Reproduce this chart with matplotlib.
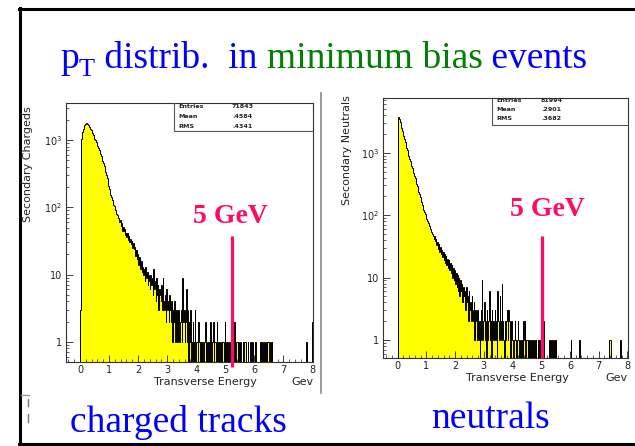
import numpy as np
import matplotlib
matplotlib.use("Agg")
import matplotlib.pyplot as plt
from matplotlib.ticker import LogLocator, NullFormatter, FixedLocator, MultipleLocator
from matplotlib.lines import Line2D

# ---------------- data ----------------
bin_lo, bin_hi, n_bins = 0.0, 8.0, 320

charged_counts = [
    3, 700, 1050, 1300, 1480, 1600, 1700, 1760, 1800, 1790,
    1750, 1690, 1620, 1550, 1470, 1400, 1330, 1260, 1190, 1120,
    1050, 990, 930, 870, 820, 770, 720, 680, 630, 580,
    530, 490, 450, 410, 370, 335, 300, 270, 240, 210,
    185, 168, 152, 140, 130, 121, 108, 103, 92, 88,
    80, 78, 69, 70, 60, 64, 52, 58, 45, 51,
    44, 47, 39, 42, 36, 41, 33, 37, 30, 34,
    28, 31, 25, 29, 24, 26, 19, 23, 17, 20,
    14, 18, 15, 12, 16, 11, 13, 10, 12, 8,
    13, 9, 11, 7, 10, 8, 6, 10, 7, 9,
    5, 12, 6, 8, 4, 9, 5, 7, 3, 6,
    5, 4, 7, 3, 9, 4, 3, 5, 2, 6,
    3, 4, 2, 5, 3, 2, 4, 1, 3, 2,
    4, 1, 3, 2, 1, 3, 2, 1, 2, 3,
    1, 9, 2, 3, 1, 2, 6, 1, 3, 0,
    2, 1, 3, 0, 1, 2, 0, 1, 3, 0,
    1, 1, 0, 2, 1, 0, 1, 0, 1, 1,
    0, 1, 2, 0, 1, 0, 1, 1, 0, 2,
    1, 0, 1, 2, 0, 1, 1, 0, 2, 1,
    0, 1, 1, 0, 1, 0, 1, 1, 0, 2,
    1, 0, 1, 1, 0, 1, 0, 1, 0, 1,
    1, 0, 2, 1, 0, 1, 1, 0, 1, 0,
    1, 1, 0, 0, 1, 0, 1, 1, 0, 0,
    0, 1, 0, 0, 1, 0, 0, 1, 0, 0,
    0, 1, 0, 0, 0, 0, 0, 0, 1, 0,
    1, 1, 0, 0, 1, 0, 1, 0, 1, 1,
    0, 1, 1, 0, 1, 0, 0, 0, 0, 0,
    0, 0, 0, 0, 0, 0, 0, 0, 0, 0,
    0, 0, 0, 0, 0, 0, 0, 0, 0, 0,
    0, 0, 0, 0, 0, 0, 0, 0, 0, 0,
    0, 0, 0, 0, 0, 0, 0, 0, 0, 0,
    0, 1, 0, 0, 0, 0, 0, 0, 0, 2,
]

neutral_counts = [
    1400, 3800, 3420, 3080, 2780, 2500, 2250, 2030, 1830, 1650,
    1490, 1340, 1210, 1090, 985, 890, 800, 730, 670, 610,
    560, 510, 470, 430, 390, 355, 320, 290, 262, 238,
    216, 196, 178, 162, 148, 135, 122, 112, 103, 95,
    88, 82, 76, 70, 66, 61, 57, 53, 50, 47,
    42, 46, 38, 41, 33, 37, 29, 34, 26, 31,
    24, 28, 21, 26, 19, 24, 17, 22, 16, 20,
    14, 19, 13, 17, 12, 16, 10, 14, 9, 13,
    8, 12, 7, 11, 6, 10, 5, 9, 6, 8,
    4, 7, 5, 6, 3, 7, 4, 5, 2, 6,
    3, 4, 2, 5, 3, 2, 4, 1, 3, 2,
    1, 3, 1, 2, 0, 1, 3, 9, 1, 2,
    4, 1, 2, 0, 3, 1, 2, 6, 1, 2,
    0, 3, 1, 2, 1, 3, 2, 1, 0, 6,
    2, 1, 5, 2, 1, 8, 2, 1, 0, 2,
    1, 2, 3, 1, 3, 2, 1, 0, 2, 1,
    1, 0, 1, 2, 1, 0, 1, 2, 1, 0,
    1, 1, 0, 1, 0, 2, 1, 2, 0, 1,
    1, 0, 1, 0, 1, 1, 0, 1, 0, 0,
    1, 0, 1, 0, 0, 1, 0, 1, 0, 0,
    1, 0, 0, 2, 0, 0, 0, 0, 0, 0,
    0, 1, 0, 1, 1, 0, 0, 1, 0, 1,
    0, 0, 0, 0, 0, 0, 0, 0, 0, 0,
    0, 0, 0, 0, 0, 0, 0, 0, 0, 0,
    0, 1, 0, 0, 0, 0, 0, 0, 0, 0,
    0, 0, 0, 1, 0, 0, 0, 0, 0, 0,
    0, 0, 0, 0, 0, 0, 0, 0, 0, 0,
    0, 0, 0, 0, 0, 0, 0, 0, 0, 0,
    0, 0, 0, 0, 0, 0, 0, 0, 0, 0,
    0, 0, 0, 0, 1, 1, 1, 0, 0, 0,
    0, 0, 0, 0, 0, 0, 0, 0, 0, 0,
    1, 0, 0, 0, 0, 0, 0, 0, 0, 0,
]

stat_names = ["Entries", "Mean", "RMS"]
charged_stats = ["71843", ".4584", ".4341"]
neutral_stats = ["81994", ".2901", ".3682"]

cut_gev = [5.23, 5.02]          # position of the red "5 GeV" marker in each panel
cut_label = "5 GeV"
ylabels = ["Secondary Chargeds", "Secondary Neutrals"]
xlabel = "Transverse Energy"
xunit = "Gev"
panel_titles = ["charged tracks", "neutrals"]
xticks = [0, 1, 2, 3, 4, 5, 6, 7, 8]
yticks = [1, 10, 100, 1000]
yticklabels = ["1", "10", "10$^{2}$", "10$^{3}$"]

# ---------------- figure ----------------
W, H = 635, 446
fig = plt.figure(figsize=(W / 100, H / 100), dpi=100)
fx = lambda px: px / W
fy = lambda py: 1 - py / H

SERIF = "Liberation Serif"
BLUE = "#0000ff"
GREEN = "#008000"
RED = "#ff0a64"
YELLOW = "#ffff00"

edges = np.linspace(bin_lo, bin_hi, n_bins + 1)

panels = [
    dict(counts=charged_counts, stats=charged_stats, px=(66, 313, 103, 362),
         xlim=(-0.48, 8.02), ylim=(0.5, 3560), box=(0.437, 0.892),
         rows=(0.985, 0.946, 0.911), lx=0.453, vx=0.672,
         cut=cut_gev[0], cut_top=36.9, cut_bot=0.42,
         xlab_x=0.563, ylab=(-0.154, 0.764), label_xy=(230, 217)),
    dict(counts=neutral_counts, stats=neutral_stats, px=(383, 628, 98, 358),
         xlim=(-0.51, 8.02), ylim=(0.515, 7540), box=(0.445, 0.896),
         rows=(0.990, 0.956, 0.921), lx=0.461, vx=0.645,
         cut=cut_gev[1], cut_top=46.0, cut_bot=0.515,
         xlab_x=0.549, ylab=(-0.147, 0.80), label_xy=(547, 210)),
]

for i, p in enumerate(panels):
    x0, x1, y0, y1 = p["px"]
    ax = fig.add_axes([fx(x0), fy(y1), (x1 - x0) / W, (y1 - y0) / H])
    ax.set_yscale("log")
    ax.set_xlim(*p["xlim"])
    ax.set_ylim(*p["ylim"])
    c = np.asarray(p["counts"], dtype=float)
    base = p["ylim"][0]
    vals = np.where(c > 0, c, base)
    ax.stairs(vals, edges, baseline=base, fill=True, color=YELLOW, zorder=1)
    ax.stairs(vals, edges, baseline=base, fill=False, color="black", lw=0.7, zorder=2)

    for s in ax.spines.values():
        s.set_linewidth(0.8)
        s.set_color("#333333")
    ax.xaxis.set_major_locator(FixedLocator(xticks))
    ax.xaxis.set_minor_locator(MultipleLocator(0.2))
    ax.yaxis.set_major_locator(FixedLocator(yticks))
    ax.set_yticklabels(yticklabels)
    ax.yaxis.set_minor_locator(LogLocator(base=10, subs=range(2, 10)))
    ax.yaxis.set_minor_formatter(NullFormatter())
    ax.tick_params(which="both", direction="in", top=False, right=False,
                   labelsize=7, colors="#222222")
    ax.tick_params(which="major", length=5, width=0.6, pad=2.5)
    ax.tick_params(which="minor", length=2.5, width=0.5)

    # stats box
    bx, by = p["box"]
    ax.plot([bx, bx, 1.0], [1.0, by, by], transform=ax.transAxes,
            color="#555555", lw=0.8, clip_on=False, zorder=5)
    for r, name, val in zip(p["rows"], stat_names, p["stats"]):
        ax.text(p["lx"], r, name, transform=ax.transAxes, fontsize=4.6,
                va="center", ha="left", fontweight="semibold", color="#222222")
        ax.text(p["vx"], r, val, transform=ax.transAxes, fontsize=4.6,
                va="center", ha="left", fontweight="semibold", color="#222222")

    # axis titles
    ax.text(p["xlab_x"], -0.077, xlabel, transform=ax.transAxes, fontsize=8,
            ha="center", va="center", color="#222222")
    ax.text(1.0, -0.077, xunit, transform=ax.transAxes, fontsize=8,
            ha="right", va="center", color="#222222")
    ax.text(p["ylab"][0], p["ylab"][1], ylabels[i], transform=ax.transAxes,
            fontsize=8, rotation=90, ha="center", va="center", color="#222222")

    # red 5 GeV marker
    ax.plot([p["cut"], p["cut"]], [p["cut_bot"], p["cut_top"]], color=RED,
            lw=2.3, solid_capstyle="butt", clip_on=False, zorder=6)
    lx_, ly_ = p["label_xy"]
    fig.text(fx(lx_), fy(ly_), cut_label, fontsize=20, fontweight="bold",
             family=SERIF, color=RED, ha="center", va="center")

# ---------------- overlay: slide frame and texts ----------------
ov = fig.add_axes([0, 0, 1, 1])
ov.set_axis_off()
ov.set_xlim(0, 1)
ov.set_ylim(0, 1)
ov.patch.set_alpha(0)

ov.add_line(Line2D([fx(20), fx(20)], [fy(8), fy(444)], color="black", lw=2.2))
ov.add_line(Line2D([fx(19), fx(635)], [fy(8.5), fy(8.5)], color="black", lw=2.2))
ov.add_line(Line2D([fx(19), fx(635)], [fy(443.5), fy(443.5)], color="black", lw=2.2))
ov.add_line(Line2D([fx(321), fx(321)], [fy(93), fy(393)], color="#888888", lw=1.2))
ov.add_line(Line2D([fx(21), fx(29)], [fy(395), fy(395)], color="#999999", lw=1.0))
ov.add_line(Line2D([fx(28), fx(28)], [fy(399), fy(406)], color="#777777", lw=1.0))
ov.add_line(Line2D([fx(28), fx(28)], [fy(414), fy(422)], color="#777777", lw=1.0))

TS = 27
t_p = ov.text(fx(60), fy(68), "p", fontsize=TS, family=SERIF, color=BLUE, va="baseline")
t_T = ov.annotate("T", xy=(1, fy(76)), xycoords=(t_p, "figure fraction"),
                  fontsize=19, family=SERIF, color=BLUE, va="baseline", ha="left")
pieces = [(" distrib.  in ", BLUE), ("minimum bias", GREEN), (" events", BLUE)]
prev = t_T
for txt, col in pieces:
    prev = ov.annotate(txt, xy=(1, fy(68)), xycoords=(prev, "figure fraction"),
                       fontsize=TS, family=SERIF, color=col, va="baseline", ha="left")

ov.text(fx(178), fy(432), panel_titles[0], fontsize=TS, family=SERIF, color=BLUE,
        ha="center", va="baseline")
ov.text(fx(491), fy(428), panel_titles[1], fontsize=TS, family=SERIF, color=BLUE,
        ha="center", va="baseline")

fig.savefig("out.png", dpi=100)
